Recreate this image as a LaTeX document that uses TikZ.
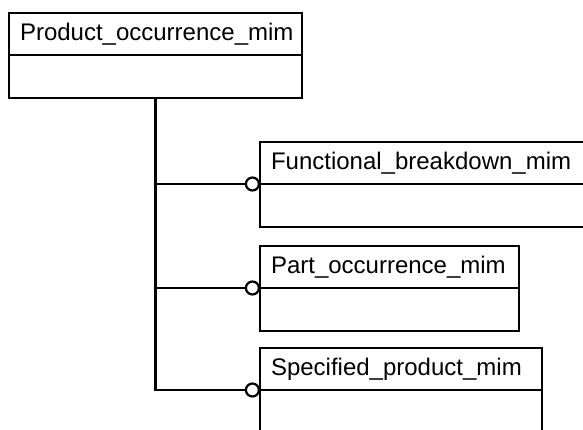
\documentclass[tikz,border=0pt]{standalone}
\usepackage{fontspec}
\setmainfont{Liberation Sans}
\usetikzlibrary{positioning}

\begin{document}
\begin{tikzpicture}[x=1pt, y=-1pt, line width=2.2pt,
	head/.style={draw, outer sep=0pt, anchor=north west, minimum height=42pt, text width=#1, inner xsep=11pt, inner ysep=0pt, align=left, font=\fontsize{24}{28}\selectfont},
	body/.style={draw, outer sep=0pt, anchor=north west, minimum height=43pt, minimum width=#1},
	ring/.style={circle, draw, fill=white, inner sep=0pt, minimum size=13pt, anchor=east}]
	\useasboundingbox (0,0) rectangle (583,430);
	\node [head=271pt] (poh) at (9,13) {Product\_occurrence\_mim};
	\node [body=293pt] (pob) at (poh.south west) {};
	\node [head=318pt] (fbh) at (260,142) {Functional\_breakdown\_mim};
	\node [body=340pt] (fbb) at (fbh.south west) {};
	\node [head=237pt] (pah) at (260,246) {Part\_occurrence\_mim};
	\node [body=259pt] (pab) at (pah.south west) {};
	\node [head=260pt] (sph) at (260,348) {Specified\_product\_mim};
	\node [body=282pt] (spb) at (sph.south west) {};
	\node [ring] (fbr) at (fbh.south west) {};
	\node [ring] (par) at (pah.south west) {};
	\node [ring] (spr) at (sph.south west) {};
	\draw (pob) |- (spr);
	\foreach \to in {
		fbr, par}
	\draw (pob.south |- \to) -- (\to);
\end{tikzpicture}
\end{document}
